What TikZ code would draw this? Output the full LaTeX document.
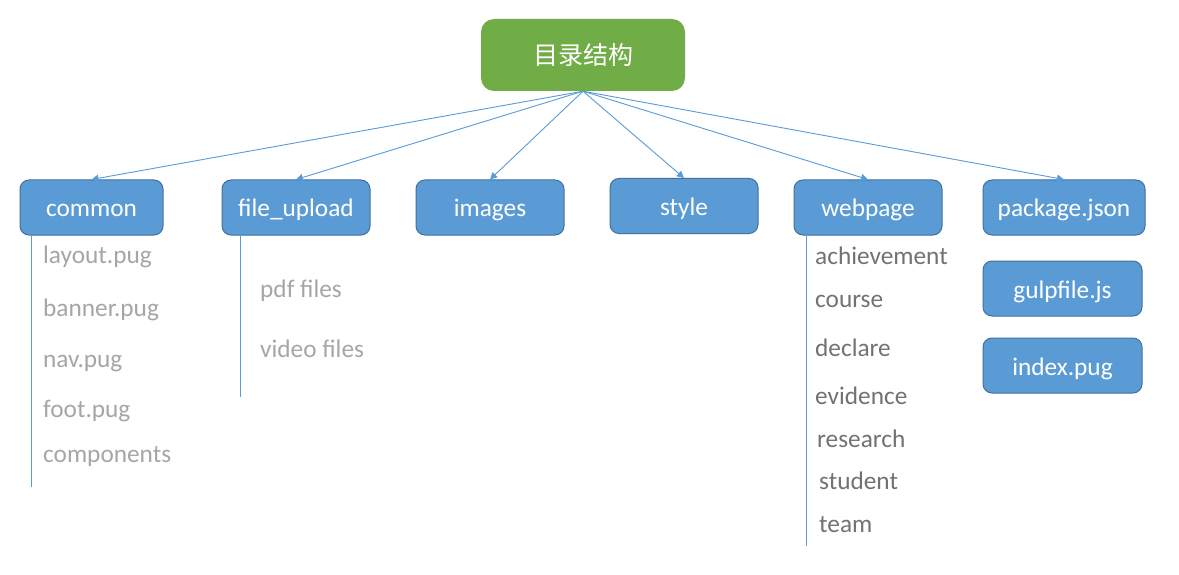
\documentclass[tikz,border=0pt]{standalone}
\usepackage{fontspec}
\setmainfont{Carlito}
\newfontfamily\cjk{Noto Sans CJK SC}
\usetikzlibrary{arrows.meta}
\definecolor{boxblue}{HTML}{5B9BD5}
\definecolor{boxedge}{HTML}{41719C}
\definecolor{rootgreen}{HTML}{70AD47}
\definecolor{lightgray}{HTML}{A8A5A5}
\definecolor{darkgray}{HTML}{767171}
\tikzset{
  dirbox/.style={draw=boxedge, fill=boxblue, line width=1pt, rounded corners=9pt,
    minimum height=55pt, inner sep=0pt, text=white, text height=19pt, text depth=0pt,
    font=\fontsize{25.3}{30}\selectfont},
  rootbox/.style={fill=rootgreen, rounded corners=13pt, minimum width=204pt,
    minimum height=72pt, inner sep=0pt, text=white, font=\cjk\fontsize{25}{29}\selectfont},
  conn/.style={draw=boxblue, line width=0.9pt, -{Triangle[length=7pt,width=7pt]}},
  treeline/.style={draw=boxblue, line width=1pt},
  leafa/.style={anchor=base west, inner sep=0pt, text=lightgray, font=\fontsize{25.3}{30}\selectfont},
  leafb/.style={anchor=base west, inner sep=0pt, text=darkgray, font=\fontsize{25.3}{30}\selectfont},
}
\begin{document}
\begin{tikzpicture}[x=1pt,y=-1pt]
\useasboundingbox (0,0) rectangle (1179,575);
\fill[white] (0,0) rectangle (1179,575);

\node[rootbox] (root) at (583,55) {目录结构};

\node[dirbox, minimum width=143pt] (common) at (91.5,207.5) {common};
\node[dirbox, minimum width=148pt] (fileup) at (296,207.5) {file\_upload};
\node[dirbox, minimum width=148pt] (images) at (490,207.5) {images};
\node[dirbox, minimum width=148pt] (style) at (684,206) {style};
\node[dirbox, minimum width=148pt] (webpage) at (868,207.5) {webpage};
\node[dirbox, minimum width=162pt] (pkg) at (1064,207.5) {package.json};
\node[dirbox, minimum width=159pt] (gulp) at (1062.5,288.5) {gulpfile.js};
\node[dirbox, minimum width=159pt] (index) at (1062.5,365.5) {index.pug};

\foreach \t in {common,fileup,images,style,webpage,pkg}
  \draw[conn] (root.south) -- (\t.north);

% common children
\coordinate (cend) at (31.5,487);
\draw[treeline] (cend |- common.south) -- (cend);
\node[leafa] (l1) at (43,263) {layout.pug};
\node[leafa] (l2) at (43,316) {banner.pug};
\node[leafa] (l3) at (43,367) {nav.pug};
\node[leafa] (l4) at (43,417) {foot.pug};
\node[leafa] (l5) at (43,462) {components};

% file_upload children
\coordinate (fend) at (240,397);
\draw[treeline] (fend |- fileup.south) -- (fend);
\node[leafa] (f1) at (260,297) {pdf files};
\node[leafa] (f2) at (260,357) {video files};

% webpage children
\coordinate (wend) at (806,546);
\draw[treeline] (wend |- webpage.south) -- (wend);
\node[leafb] (w1) at (815,265) {achievement};
\node[leafb] (w2) at (815,307) {course};
\node[leafb] (w3) at (815,356) {declare};
\node[leafb] (w4) at (815,404) {evidence};
\node[leafb] (w5) at (817,447) {research};
\node[leafb] (w6) at (819,489) {student};
\node[leafb] (w7) at (819,532) {team};
\end{tikzpicture}
\end{document}
